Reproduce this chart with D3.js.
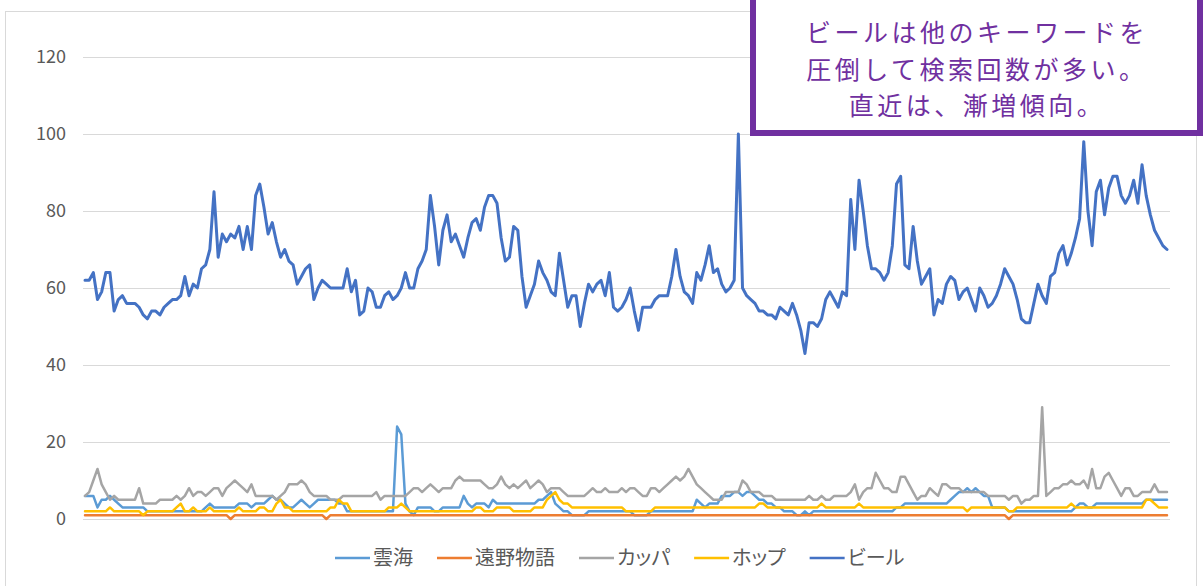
<!DOCTYPE html>
<html><head><meta charset="utf-8">
<script src="https://cdn.jsdelivr.net/npm/d3@7/dist/d3.min.js"></script>
<style>
html,body{margin:0;padding:0;background:#fff;}
svg{display:block;font-family:"Noto Sans CJK JP","Noto Sans",sans-serif;}
</style></head>
<body>
<svg id="chart" width="1204" height="586"></svg>
<script>
// ---- data (weekly search interest, 261 weeks) ----
const seriesNames = ["雲海", "遠野物語", "カッパ", "ホップ", "ビール"];
const seriesColors = ["#5B9BD5", "#ED7D31", "#A5A5A5", "#FFC000", "#4472C4"];
const yTicks = [0, 20, 40, 60, 80, 100, 120];

const unkai = [
 6,6,6,3,5,5,6,5,4,3, 3,3,3,3,3,2,2,2,2,2, 2,2,2,2,2,2,2,2,2,3, 4,3,3,3,3,3,3,4,4,4,
 3,4,4,4,5,6,5,5,4,3, 3,4,5,4,3,4,5,5,5,5, 5,4,4,2,2,2,2,2,2,2, 2,2,2,2,2,24,22,4,2,1,
 3,3,3,3,2,2,3,3,3,3, 3,6,4,3,4,4,4,3,5,4, 4,4,4,4,4,4,4,4,4,5, 5,6,7,4,3,2,2,1,1,1,
 1,2,2,2,2,2,2,2,2,2, 2,2,1,1,1,1,2,2,2,2, 2,2,2,2,2,2,2,5,4,3, 4,4,4,6,6,6,7,7,6,7,
 7,6,5,5,4,4,3,3,2,2, 2,1,1,2,1,2,2,2,2,2, 2,2,2,2,2,2,2,2,2,2, 2,2,2,2,2,3,3,4,4,4,
 4,4,4,4,4,4,4,4,5,6, 7,7,8,7,8,7,6,6,3,3, 3,3,2,2,2,2,2,2,2,2, 2,2,2,2,2,2,2,2,3,4,
 4,3,3,4,4,4,4,4,4,4, 4,4,4,4,4,5,5,5,5,5,5
];
const tono = [
 1,1,1,1,1,1,1,1,1,1, 1,1,1,1,1,1,1,1,1,1, 1,1,1,1,1,1,1,1,1,1, 1,1,1,1,1,0,1,1,1,1,
 1,1,1,1,1,1,1,1,1,1, 1,1,1,1,1,1,1,1,0,1, 1,1,1,1,1,1,1,1,1,1, 1,1,1,1,1,1,1,1,1,1,
 1,1,1,1,1,1,1,1,1,1, 1,1,1,1,1,1,1,1,1,1, 1,1,1,1,1,1,1,1,1,1, 1,1,1,1,1,1,1,1,1,1,
 1,1,1,1,1,1,1,1,1,1, 1,1,1,1,1,1,1,1,1,1, 1,1,1,1,1,1,1,1,1,1, 1,1,1,1,1,1,1,1,1,1,
 1,1,1,1,1,1,1,1,1,1, 1,1,1,1,1,1,1,1,1,1, 1,1,1,1,1,1,1,1,1,1, 1,1,1,1,1,1,1,1,1,1,
 1,1,1,1,1,1,1,1,1,1, 1,1,1,1,1,1,1,1,1,1, 1,1,0,1,1,1,1,1,1,1, 1,1,1,1,1,1,1,1,1,1,
 1,1,1,1,1,1,1,1,1,1, 1,1,1,1,1,1,1,1,1,1,1
];
const kappa = [
 6,7,10,13,9,7,5,6,5,5, 5,5,5,8,4,4,4,4,5,5, 5,5,6,5,6,8,6,7,7,6, 7,8,8,6,8,9,10,9,8,7,
 9,6,6,6,6,6,5,6,7,9, 9,9,10,9,7,6,6,6,6,5, 5,5,6,6,6,6,6,6,6,6, 7,5,6,6,6,6,6,6,7,8,
 8,7,8,9,8,7,8,8,8,10, 11,10,10,10,10,10,9,8,8,9, 11,9,8,9,8,9,10,8,9,10, 9,7,8,8,8,7,6,6,6,6,
 6,7,8,7,7,8,7,7,7,8, 7,8,8,7,6,6,8,8,7,8, 9,10,11,10,11,13,11,9,8,7, 6,5,5,5,7,7,7,7,10,9,
 7,7,7,6,6,6,5,5,5,5, 5,5,5,5,6,5,5,6,5,5, 6,6,6,6,7,9,5,7,8,8, 12,10,8,8,7,7,11,11,9,7,
 5,6,6,8,7,6,9,9,8,8, 8,7,7,7,7,7,7,6,6,6, 6,6,5,6,6,4,5,5,6,6, 29,6,7,8,8,9,9,10,9,9,
 10,8,13,8,8,11,12,10,8,6, 8,8,6,6,7,7,7,9,7,7,7
];
const hop = [
 2,2,2,2,2,2,3,2,2,2, 2,2,2,2,1,2,2,2,2,2, 2,2,3,4,2,2,3,2,2,2, 3,2,2,2,2,2,2,3,2,2,
 2,2,3,3,2,2,4,5,3,3, 2,2,2,2,2,2,2,2,2,3, 3,5,4,4,2,2,2,2,2,2, 2,2,2,3,3,3,4,3,2,2,
 2,2,2,2,2,2,2,2,2,2, 2,2,2,2,3,3,2,2,2,3, 3,3,3,2,2,2,2,2,3,3, 3,5,6,7,5,4,4,3,3,3,
 3,3,3,3,3,3,3,3,3,3, 2,2,2,2,2,2,2,3,3,3, 3,3,3,3,3,3,3,3,3,3, 3,3,3,3,3,3,3,3,3,3,
 3,3,4,4,3,3,3,3,3,3, 3,3,3,3,3,3,3,4,3,3, 3,3,3,3,3,3,4,3,3,3, 3,3,3,3,3,3,3,3,3,3,
 3,3,3,3,3,3,3,3,3,3, 3,3,2,3,3,3,3,3,3,3, 3,3,2,2,3,3,3,3,3,3, 3,3,3,3,3,3,3,4,3,3,
 3,3,3,3,3,3,3,3,3,3, 3,3,3,3,3,5,5,4,3,3,3
];
const beer = [
 62,62,64,57,59,64,64,54,57,58, 56,56,56,55,53,52,54,54,53,55, 56,57,57,58,63,58,61,60,65,66,
 70,85,68,74,72,74,73,76,70,76, 70,84,87,81,74,77,72,68,70,67, 66,61,63,65,66,57,60,62,61,60,
 60,60,60,65,59,62,53,54,60,59, 55,55,58,59,57,58,60,64,60,60, 65,67,70,84,76,66,75,79,72,74,
 71,68,73,77,78,75,81,84,84,82, 73,67,68,76,75,63,55,58,61,67, 64,62,59,58,69,62,55,58,58,50,
 56,61,59,61,62,58,64,55,54,55, 57,60,54,49,55,55,55,57,58,58, 58,63,70,63,59,58,56,64,62,66,
 71,64,65,61,59,60,62,100,60,58, 57,56,54,54,53,53,52,55,54,53, 56,53,49,43,51,51,50,52,57,59,
 57,55,59,58,83,70,88,80,71,65, 65,64,62,64,71,87,89,66,65,76, 67,61,63,65,53,57,56,61,63,62,
 57,59,60,57,54,60,58,55,56,58, 61,65,63,61,57,52,51,51,56,61, 58,56,63,64,69,71,66,69,73,78,
 98,80,71,85,88,79,86,89,89,84, 82,84,88,82,92,84,79,75,73,71,70
];
const seriesValues = [unkai, tono, kappa, hop, beer];
const noteLines = ["ビールは他のキーワードを", "圧倒して検索回数が多い。", "直近は、漸増傾向。"];

// ---- drawing ----
const svg = d3.select("#chart");
const plot = {left: 83, right: 1170, top: 57, bottom: 519};

// outer chart frame
svg.append("rect").attr("x", 5.5).attr("y", 11.5).attr("width", 1191).attr("height", 600)
  .attr("fill", "#fff").attr("stroke", "#d9d9d9").attr("stroke-width", 1);

const n = beer.length;
const x = d3.scaleLinear().domain([0, n - 1]).range([85, 1167]);
const y = d3.scaleLinear().domain([0, 120]).range([plot.bottom, plot.top]);

// gridlines
svg.append("g").selectAll("line").data(yTicks).join("line")
  .attr("x1", plot.left).attr("x2", plot.right)
  .attr("y1", d => Math.round(y(d)) + 0.5).attr("y2", d => Math.round(y(d)) + 0.5)
  .attr("stroke", "#d9d9d9").attr("stroke-width", 1);

// y axis labels
const yAxis = d3.axisLeft(y).tickValues(yTicks).tickSize(0).tickPadding(0);
const gy = svg.append("g").attr("transform", "translate(66,0)").call(yAxis);
gy.select(".domain").remove();
gy.selectAll("text").attr("fill", "#595959").style("font-size", "18px")
  .style("font-family", '"Noto Sans CJK JP", sans-serif');

// lines
const line = d3.line().x((d, i) => x(i)).y(d => y(d)).curve(d3.curveLinear);
seriesValues.forEach((vals, k) => {
  svg.append("path").datum(vals).attr("d", line)
    .attr("fill", "none").attr("stroke", seriesColors[k])
    .attr("stroke-width", k === 4 ? 3 : 2.5)
    .attr("stroke-linejoin", "round").attr("stroke-linecap", "round");
});

// legend
const lg = svg.append("g");
let lx = 335;
const ly = 558;
seriesNames.forEach((name, k) => {
  lg.append("line").attr("x1", lx).attr("x2", lx + 35).attr("y1", ly).attr("y2", ly)
    .attr("stroke", seriesColors[k]).attr("stroke-width", 2.5);
  const t = lg.append("text").attr("x", lx + 38).attr("y", ly).attr("dy", "0.36em")
    .attr("fill", "#595959").style("font-size", "20px")
    .style("font-feature-settings", '"palt"').text(name);
  lx += 38 + t.node().getComputedTextLength() + 24;
});

// annotation box
const box = svg.append("g");
box.append("rect").attr("x", 753).attr("y", -10).attr("width", 447).attr("height", 143)
  .attr("fill", "#fff").attr("stroke", "#7030A0").attr("stroke-width", 6);
box.selectAll("text").data(noteLines).join("text")
  .attr("x", 977).attr("y", (d, i) => 33 + i * 36.5).attr("dy", "0.36em")
  .attr("text-anchor", "middle").attr("fill", "#7030A0")
  .style("font-size", "25px").style("letter-spacing", "3.5px").text(d => d);
</script>
</body></html>
